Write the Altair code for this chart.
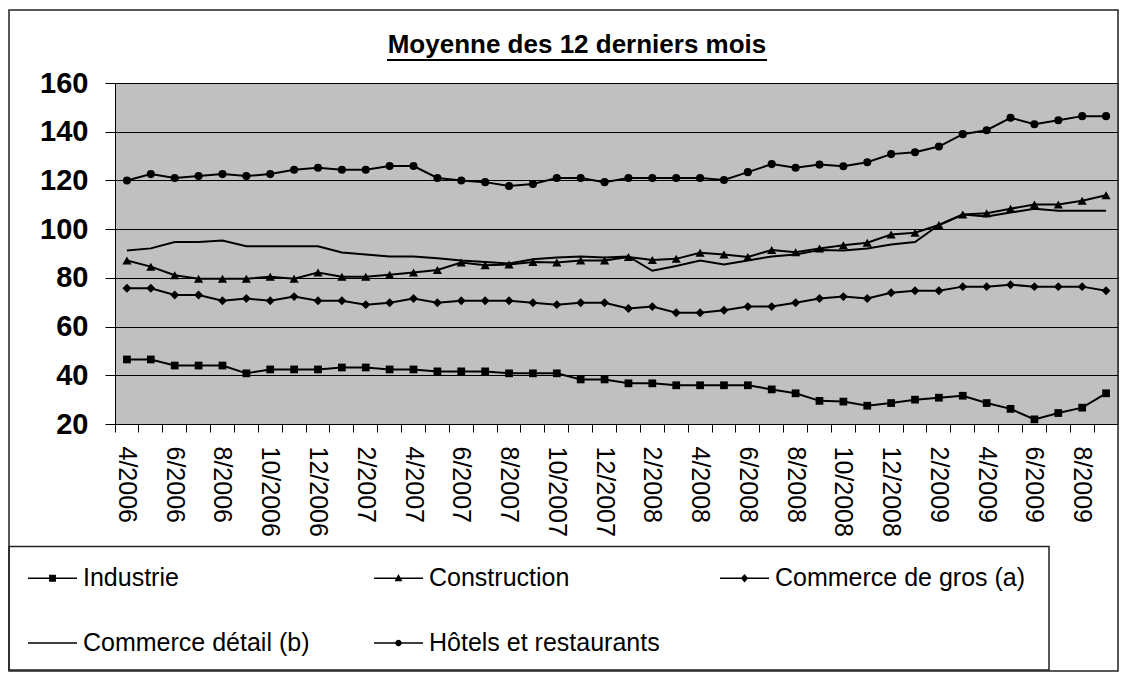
import altair as alt
import pandas as pd

# ---------------- data ----------------
months = ["4/2006", "5/2006", "6/2006", "7/2006", "8/2006", "9/2006", "10/2006", "11/2006", "12/2006",
          "1/2007", "2/2007", "3/2007", "4/2007", "5/2007", "6/2007", "7/2007", "8/2007", "9/2007",
          "10/2007", "11/2007", "12/2007",
          "1/2008", "2/2008", "3/2008", "4/2008", "5/2008", "6/2008", "7/2008", "8/2008", "9/2008",
          "10/2008", "11/2008", "12/2008",
          "1/2009", "2/2009", "3/2009", "4/2009", "5/2009", "6/2009", "7/2009", "8/2009", "9/2009"]

industrie = [46.5, 46.5, 44.0, 44.0, 44.0, 40.8, 42.4, 42.4, 42.4, 43.2, 43.2, 42.4, 42.4, 41.6, 41.6,
             41.6, 40.8, 40.8, 40.8, 38.3, 38.3, 36.7, 36.7, 35.9, 35.9, 35.9, 35.9, 34.2, 32.6, 29.5,
             29.2, 27.5, 28.6, 30.0, 30.8, 31.6, 28.6, 26.2, 21.9, 24.5, 26.7, 32.6]

construction = [87.1, 84.6, 81.1, 79.6, 79.6, 79.6, 80.5, 79.6, 82.2, 80.5, 80.5, 81.3, 82.2, 83.2, 86.3,
                85.2, 85.5, 86.5, 86.3, 87.1, 87.1, 88.6, 87.3, 87.8, 90.3, 89.6, 88.6, 91.4, 90.5, 92.1,
                93.4, 94.4, 97.8, 98.5, 101.7, 106.0, 106.5, 108.4, 110.1, 110.1, 111.7, 113.9]

commerce_gros = [75.7, 75.7, 73.0, 73.0, 70.6, 71.5, 70.6, 72.3, 70.6, 70.6, 69.0, 69.8, 71.5, 69.8, 70.6,
                 70.6, 70.6, 69.8, 69.0, 69.8, 69.8, 67.4, 68.2, 65.7, 65.7, 66.7, 68.2, 68.2, 69.8, 71.5,
                 72.3, 71.5, 73.9, 74.7, 74.7, 76.4, 76.4, 77.2, 76.4, 76.4, 76.4, 74.7]

commerce_detail = [91.2, 92.1, 94.7, 94.7, 95.3, 93.0, 93.0, 93.0, 93.0, 90.4, 89.6, 88.8, 88.8, 88.0, 87.1,
                   86.5, 85.9, 87.6, 88.4, 88.8, 88.4, 88.8, 82.9, 84.9, 87.1, 85.5, 87.1, 88.8, 89.6, 91.4,
                   91.2, 92.1, 93.7, 94.7, 101.7, 106.0, 105.2, 106.8, 108.4, 107.6, 107.6, 107.6]

hotels = [120.0, 122.6, 121.0, 121.8, 122.6, 121.8, 122.6, 124.4, 125.2, 124.4, 124.4, 125.9, 125.9, 121.0, 120.0,
          119.3, 117.7, 118.5, 121.0, 121.0, 119.3, 121.0, 121.0, 121.0, 121.0, 120.2, 123.4, 126.7, 125.2, 126.5,
          125.8, 127.5, 130.8, 131.6, 133.9, 139.0, 140.6, 145.7, 143.1, 144.7, 146.4, 146.4]

series_names = ["Industrie", "Construction", "Commerce de gros (a)", "Commerce détail (b)", "Hôtels et restaurants"]
series_values = [industrie, construction, commerce_gros, commerce_detail, hotels]
marker_shapes = {"Industrie": "square", "Construction": "triangle-up",
                 "Commerce de gros (a)": "diamond", "Hôtels et restaurants": "circle"}
marker_sizes = {"Industrie": 60, "Construction": 85, "Commerce de gros (a)": 80, "Hôtels et restaurants": 65}

# legend symbols: thin filled bar (the line) plus the marker
BAR = "M-1,-0.033H1V0.033H-1Z"
legend_paths = [
    BAR + "M-0.14,-0.14H0.14V0.14H-0.14Z",
    BAR + "M0,-0.17L0.16,0.12H-0.16Z",
    BAR + "M0,-0.17L0.15,0L0,0.17L-0.15,0Z",
    BAR,
    BAR + "M0.13,0A0.13,0.13,0,1,1,-0.13,0A0.13,0.13,0,1,1,0.13,0Z",
]

title_text = "Moyenne des 12 derniers mois"
y_ticks = [20, 40, 60, 80, 100, 120, 140, 160]

rows = []
for name, vals in zip(series_names, series_values):
    for i, (m, v) in enumerate(zip(months, vals)):
        rows.append({"mois": m, "idx": i, "serie": name, "valeur": v})
df = pd.DataFrame(rows)

FONT = "Liberation Sans"
W = 1003
H = 341

x_enc = alt.X("mois:O", sort=months,
              scale=alt.Scale(type="band", paddingInner=0, paddingOuter=0),
              axis=alt.Axis(title=None, bandPosition=0, tickSize=8, tickColor="black",
                            domainColor="black", labelAngle=90, labelAlign="left",
                            labelBaseline="middle", labelFontSize=25, labelFont=FONT,
                            labelColor="black", labelPadding=14, labelOverlap=False,
                            labelExpr="toNumber(split(datum.label, '/')[0]) % 2 == 0 ? datum.label : ''",
                            grid=False))
y_enc = alt.Y("valeur:Q", scale=alt.Scale(domain=[20, 160], nice=False, zero=False),
              axis=alt.Axis(title=None, values=y_ticks, tickSize=10, tickColor="black",
                            domainColor="black", labelFontSize=29, labelFontWeight="bold",
                            labelFont=FONT, labelColor="black", labelPadding=17,
                            grid=True, gridColor="black", gridWidth=1))

base = alt.Chart(df)

lines = base.mark_line(color="black", strokeWidth=2).encode(
    x=x_enc, y=y_enc, detail="serie:N", order="idx:Q")

point_layers = []
for name in series_names:
    if name not in marker_shapes:
        continue
    point_layers.append(
        base.transform_filter(alt.datum.serie == name).mark_point(
            shape=marker_shapes[name], filled=True, color="black", opacity=1,
            size=marker_sizes[name]).encode(x=x_enc, y=y_enc)
    )

# legend carrier (invisible in the plot, drives the legend)
leg_df = pd.DataFrame({"mois": [months[0]] * 5, "valeur": [v[0] for v in series_values],
                       "legende": series_names})
legend_layer = alt.Chart(leg_df).mark_point(
    filled=True, fill="black", opacity=0).encode(
    x=x_enc, y=y_enc,
    shape=alt.Shape("legende:N",
                    scale=alt.Scale(domain=series_names, range=legend_paths),
                    legend=alt.Legend(title=None, orient="none", direction="horizontal",
                                      legendX=-87, legendY=470.5,
                                      columns=3, gridAlign="all", columnPadding=40, rowPadding=27,
                                      padding=0, labelFontSize=25, labelFont=FONT,
                                      labelColor="black", labelOffset=6, labelLimit=500,
                                      symbolSize=2401, symbolStrokeWidth=0,
                                      symbolFillColor="black", symbolStrokeColor="black",
                                      symbolOpacity=1)))

one = pd.DataFrame({"a": [0]})
title_layer = alt.Chart(one).mark_text(text=title_text, font=FONT, fontSize=26, fontWeight="bold",
                                        color="black", align="center", baseline="alphabetic").encode(
    x=alt.value(462), y=alt.value(-30))
underline = alt.Chart(one).mark_rule(color="black", strokeWidth=2).encode(
    x=alt.value(462 - 190), x2=alt.value(462 + 190), y=alt.value(-23))

outer_border = alt.Chart(one).mark_rect(fillOpacity=0, stroke="#222222", strokeWidth=1.5).encode(
    x=alt.value(-106), x2=alt.value(W), y=alt.value(-73), y2=alt.value(588))
legend_border = alt.Chart(one).mark_rect(fillOpacity=0, stroke="#222222", strokeWidth=1.5).encode(
    x=alt.value(-106), x2=alt.value(934), y=alt.value(463.5), y2=alt.value(587))

chart = alt.layer(outer_border, legend_border, lines, *point_layers, legend_layer,
                  title_layer, underline).properties(
    width=W, height=H, padding={"left": 0, "top": 1, "right": 0, "bottom": 0}
).configure_view(fill="#C0C0C0", stroke="#808080", strokeWidth=1)

chart.save("out.html", embed_options={"renderer": "svg", "actions": False})
